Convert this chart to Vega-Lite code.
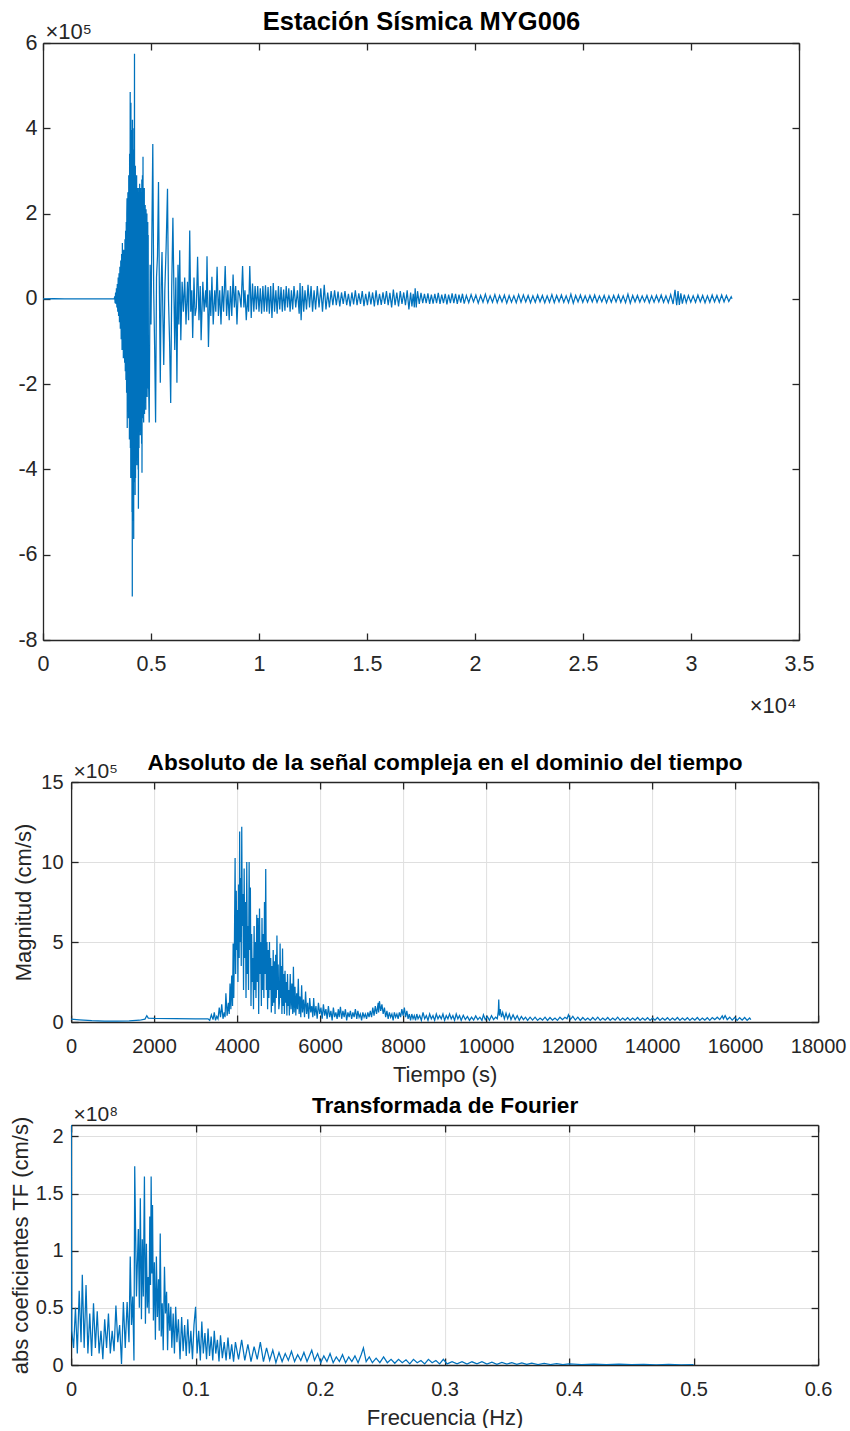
{
"$schema": "https://vega.github.io/schema/vega-lite/v6.json",
"background": "white",
"padding": {"left": 9, "top": 9, "right": 0, "bottom": 0},
"config": {
  "font": "Liberation Sans",
  "view": {"stroke": null},
  "axis": {
    "labelFont": "Liberation Sans", "labelFontSize": 20, "labelColor": "#262626",
    "titleFont": "Liberation Sans", "titleFontSize": 22, "titleFontWeight": "normal", "titleColor": "#262626",
    "domainColor": "#262626", "domainWidth": 1.3, "tickColor": "#262626", "tickWidth": 1.3, "tickSize": -7,
    "labelFlush": false, "labelOverlap": false, "labelBound": false,
    "grid": false, "gridColor": "#dfdfdf", "gridWidth": 1
  },
  "line": {"color": "#0072BD", "strokeWidth": 1.25}
},
"datasets": {
"sismo": [
{"t":0,"v":0},{"t":500,"v":300},{"t":1000,"v":-200},{"t":1500,"v":200},{"t":2000,"v":-300},{"t":2500,"v":200},{"t":3000,"v":-200},{"t":3300,"v":0},
{"t":3320,"v":6000},{"t":3340,"v":-10000},{"t":3360,"v":15000},{"t":3380,"v":-12000},{"t":3400,"v":25000},{"t":3420,"v":-20000},{"t":3440,"v":35000},{"t":3460,"v":-30000},{"t":3480,"v":50000},{"t":3500,"v":-40000},{"t":3520,"v":60000},{"t":3540,"v":-55000},{"t":3560,"v":75000},{"t":3580,"v":-70000},{"t":3600,"v":90000},{"t":3620,"v":-95000},{"t":3640,"v":105000},{"t":3660,"v":-120000},{"t":3675,"v":131000},{"t":3690,"v":-110000},{"t":3705,"v":100000},{"t":3720,"v":-139000},{"t":3735,"v":115000},{"t":3750,"v":-125000},{"t":3765,"v":95000},{"t":3780,"v":-150000},{"t":3795,"v":140000},{"t":3810,"v":-170000},{"t":3825,"v":160000},{"t":3840,"v":-190000},{"t":3855,"v":180000},{"t":3870,"v":-220000},{"t":3880,"v":200000},
{"t":3890,"v":2.36e5},{"t":3900,"v":-3.03e5},{"t":3910,"v":2.0e5},{"t":3920,"v":-2.6e5},{"t":3930,"v":2.5e5},{"t":3940,"v":-2.2e5},{"t":3950,"v":2.2e5},{"t":3960,"v":-2.8e5},{"t":3970,"v":2.9e5},{"t":3980,"v":-2.5e5},{"t":3990,"v":2.6e5},{"t":4000,"v":-3.3e5},{"t":4010,"v":3.4e5},{"t":4020,"v":-3.0e5},{"t":4037,"v":4.85e5},{"t":4045,"v":-3.5e5},{"t":4055,"v":3.9e5},{"t":4063,"v":-4.2e5},{"t":4070,"v":4.6e5},{"t":4080,"v":-3.6e5},{"t":4090,"v":3.7e5},{"t":4100,"v":-4.0e5},{"t":4110,"v":3.96e5},{"t":4120,"v":-5.0e5},{"t":4128,"v":3.2e5},{"t":4134,"v":-6.98e5},{"t":4142,"v":4.2e5},{"t":4150,"v":-4.5e5},{"t":4160,"v":3.5e5},{"t":4170,"v":-5.2e5},{"t":4180,"v":3.0e5},{"t":4199,"v":-5.63e5},{"t":4208,"v":4.0e5},{"t":4218,"v":-4.0e5},{"t":4236,"v":5.75e5},{"t":4245,"v":-4.3e5},{"t":4255,"v":3.1e5},{"t":4265,"v":-4.6e5},{"t":4275,"v":3.12e5},{"t":4285,"v":-4.2e5},{"t":4295,"v":2.8e5},{"t":4305,"v":-3.8e5},{"t":4315,"v":2.6e5},{"t":4325,"v":-3.6e5},{"t":4335,"v":2.9e5},{"t":4345,"v":-3.9e5},{"t":4355,"v":2.5e5},{"t":4365,"v":-3.4e5},{"t":4375,"v":2.6e5},{"t":4385,"v":-3.2e5},{"t":4395,"v":2.4e5},{"t":4405,"v":-4.0e5},{"t":4412,"v":2.5e5},{"t":4417,"v":-4.92e5},{"t":4435,"v":2.6e5},{"t":4445,"v":-3.5e5},{"t":4455,"v":2.3e5},{"t":4465,"v":-3.0e5},{"t":4475,"v":2.7e5},{"t":4485,"v":-2.8e5},{"t":4495,"v":2.4e5},{"t":4505,"v":-3.2e5},{"t":4515,"v":2.6e5},{"t":4525,"v":-2.9e5},{"t":4535,"v":2.2e5},{"t":4545,"v":-3.1e5},{"t":4555,"v":2.5e5},{"t":4565,"v":-3.4e5},{"t":4575,"v":2.8e5},{"t":4583,"v":-4.08e5},{"t":4605,"v":2.9e5},{"t":4615,"v":-2.8e5},{"t":4630,"v":3.33e5},{"t":4640,"v":-2.6e5},{"t":4650,"v":2.4e5},{"t":4660,"v":-2.9e5},{"t":4670,"v":2.3e5},{"t":4680,"v":-2.5e5},{"t":4690,"v":2.6e5},{"t":4700,"v":-2.7e5},{"t":4710,"v":2.0e5},{"t":4720,"v":-2.4e5},{"t":4730,"v":2.2e5},{"t":4740,"v":-2.3e5},{"t":4750,"v":1.9e5},{"t":4760,"v":-2.6e5},{"t":4770,"v":2.1e5},{"t":4780,"v":-2.2e5},{"t":4790,"v":1.8e5},{"t":4800,"v":-2.0e5},{"t":4810,"v":2.0e5},{"t":4820,"v":-2.3e5},{"t":4830,"v":1.6e5},{"t":4840,"v":-1.9e5},{"t":4850,"v":1.8e5},{"t":4860,"v":-2.1e5},{"t":4870,"v":1.5e5},{"t":4880,"v":-1.7e5},
{"t":4917,"v":-2.9e5},{"t":4960,"v":0.8e5},{"t":5000,"v":-0.6e5},{"t":5040,"v":1.5e5},{"t":5083,"v":3.63e5},{"t":5125,"v":0.2e5},{"t":5170,"v":-1.2e5},{"t":5213,"v":-2.9e5},{"t":5255,"v":0.5e5},{"t":5300,"v":1.0e5},{"t":5347,"v":2.74e5},{"t":5390,"v":0.1e5},{"t":5431,"v":-1.97e5},{"t":5470,"v":0.3e5},{"t":5510,"v":1.1e5},{"t":5550,"v":-0.4e5},{"t":5590,"v":-1.55e5},{"t":5640,"v":0.2e5},{"t":5700,"v":1.2e5},{"t":5764,"v":2.58e5},{"t":5810,"v":0},{"t":5860,"v":-1.0e5},{"t":5912,"v":-2.44e5},{"t":5960,"v":0.3e5},{"t":6014,"v":1.9e5},{"t":6060,"v":0.2e5},{"t":6100,"v":-1.2e5},{"t":6150,"v":0.5e5},{"t":6200,"v":-1.97e5},{"t":6250,"v":0.8e5},{"t":6290,"v":-0.6e5},{"t":6330,"v":1.14e5},{"t":6380,"v":-0.97e5},
{"t":6440,"v":0.4e5},{"t":6500,"v":-0.3e5},{"t":6560,"v":0.5e5},{"t":6620,"v":-0.6e5},{"t":6690,"v":0.4e5},{"t":6740,"v":-0.5e5},{"t":6793,"v":1.6e5},{"t":6840,"v":-0.3e5},{"t":6890,"v":0.2e5},{"t":6930,"v":-0.92e5},{"t":6990,"v":0.5e5},{"t":7040,"v":-0.4e5},{"t":7100,"v":-0.2e5},{"t":7157,"v":0.99e5},{"t":7220,"v":-0.5e5},{"t":7280,"v":0.3e5},{"t":7320,"v":-0.97e5},{"t":7400,"v":0.4e5},{"t":7460,"v":-0.3e5},{"t":7530,"v":0.2e5},{"t":7560,"v":-0.2e5},{"t":7593,"v":1.0e5},{"t":7660,"v":-1.13e5},{"t":7720,"v":0.2e5},{"t":7770,"v":-0.4e5},{"t":7820,"v":0.52e5},{"t":7880,"v":-0.6e5},{"t":7950,"v":0.2e5},{"t":8000,"v":-0.3e5},{"t":8060,"v":0.75e5},{"t":8120,"v":-0.4e5},{"t":8180,"v":0.2e5},{"t":8240,"v":-0.6e5},{"t":8300,"v":0.3e5},{"t":8360,"v":-0.3e5},{"t":8435,"v":0.77e5},{"t":8500,"v":-0.4e5},{"t":8560,"v":0.2e5},{"t":8620,"v":-0.5e5},{"t":8680,"v":0.3e5},{"t":8740,"v":-0.4e5},{"t":8800,"v":0.57e5},{"t":8860,"v":-0.2e5},{"t":8920,"v":0.3e5},{"t":8980,"v":-0.6e5},{"t":9040,"v":0.2e5},{"t":9100,"v":0.1e5},{"t":9170,"v":-0.2e5},{"t":9240,"v":0.77e5},{"t":9300,"v":-0.2e5},{"t":9350,"v":0.2e5},{"t":9410,"v":-0.5e5},{"t":9480,"v":0.1e5},{"t":9520,"v":-0.3e5},{"t":9573,"v":0.77e5},{"t":9640,"v":-0.45e5},{"t":9700,"v":0.36e5},{"t":9760,"v":-0.3e5},{"t":9820,"v":0.3e5},{"t":9880,"v":-0.25e5},{"t":9940,"v":0.3e5},{"t":10000,"v":-0.3e5},{"t":10060,"v":0.25e5},{"t":10120,"v":-0.35e5},{"t":10180,"v":0.3e5},{"t":10240,"v":-0.3e5},{"t":10300,"v":0.32e5},{"t":10360,"v":-0.3e5},{"t":10420,"v":0.28e5},{"t":10480,"v":-0.35e5},{"t":10540,"v":0.3e5},{"t":10600,"v":-0.45e5},{"t":10660,"v":0.37e5},{"t":10720,"v":-0.3e5},{"t":10780,"v":0.2e5},{"t":10840,"v":-0.35e5},
{"t":10900,"v":0.3e5},{"t":10960,"v":-0.25e5},{"t":11020,"v":0.28e5},{"t":11080,"v":-0.3e5},{"t":11140,"v":0.22e5},{"t":11200,"v":-0.28e5},{"t":11260,"v":0.3e5},{"t":11320,"v":-0.2e5},{"t":11380,"v":0.25e5},{"t":11440,"v":-0.3e5},{"t":11500,"v":0.2e5},{"t":11560,"v":-0.25e5},{"t":11620,"v":0.3e5},{"t":11700,"v":-0.2e5},{"t":11780,"v":0.2e5},{"t":11860,"v":-0.35e5},{"t":11900,"v":0.37e5},{"t":11950,"v":-0.5e5},{"t":12010,"v":0.3e5},{"t":12070,"v":-0.3e5},{"t":12130,"v":0.2e5},{"t":12200,"v":-0.25e5},{"t":12270,"v":0.33e5},{"t":12340,"v":-0.2e5},{"t":12410,"v":0.3e5},{"t":12480,"v":-0.3e5},{"t":12550,"v":0.2e5},{"t":12620,"v":-0.25e5},{"t":12700,"v":0.3e5},{"t":12780,"v":-0.2e5},{"t":12860,"v":0.25e5},{"t":12940,"v":-0.3e5},{"t":13020,"v":0.33e5},{"t":13100,"v":-0.25e5},{"t":13180,"v":0.15e5},{"t":13260,"v":-0.2e5},{"t":13340,"v":0.18e5},{"t":13420,"v":-0.15e5},{"t":13500,"v":0.2e5},{"t":13580,"v":-0.15e5},{"t":13660,"v":0.17e5},{"t":13740,"v":-0.18e5},{"t":13820,"v":0.15e5},{"t":13900,"v":-0.12e5},{"t":13980,"v":0.18e5},{"t":14060,"v":-0.15e5},{"t":14140,"v":0.12e5},{"t":14220,"v":-0.18e5},{"t":14300,"v":0.15e5},{"t":14380,"v":-0.13e5},{"t":14460,"v":0.2e5},{"t":14540,"v":-0.15e5},{"t":14620,"v":0.13e5},{"t":14700,"v":-0.12e5},{"t":14780,"v":0.18e5},{"t":14860,"v":-0.17e5},{"t":14940,"v":0.12e5},{"t":15020,"v":-0.15e5},{"t":15100,"v":0.17e5},{"t":15180,"v":-0.13e5},{"t":15260,"v":0.15e5},{"t":15340,"v":-0.18e5},{"t":15420,"v":0.2e5},{"t":15500,"v":-0.15e5},{"t":15580,"v":0.12e5},{"t":15660,"v":-0.14e5},{"t":15740,"v":0.15e5},{"t":15820,"v":-0.12e5},{"t":15900,"v":0.18e5},{"t":15980,"v":-0.15e5},{"t":16060,"v":0.14e5},{"t":16140,"v":-0.2e5},{"t":16220,"v":0.22e5},{"t":16300,"v":-0.15e5},{"t":16380,"v":0.15e5},{"t":16460,"v":-0.18e5},{"t":16540,"v":0.18e5},{"t":16620,"v":-0.12e5},{"t":16700,"v":0.15e5},{"t":16780,"v":-0.15e5},{"t":16860,"v":0.2e5},{"t":16940,"v":-0.25e5},{"t":17020,"v":0.15e5},{"t":17080,"v":-0.18e5},{"t":17140,"v":0.12e5},{"t":17190,"v":-0.2e5},{"t":17230,"v":0.25e5},{"t":17280,"v":-0.2e5},{"t":17340,"v":0.18e5},{"t":17420,"v":-0.12e5},{"t":17500,"v":0.14e5},{"t":17580,"v":-0.1e5},{"t":17660,"v":0.12e5},{"t":17740,"v":-0.1e5},{"t":17820,"v":0.13e5},{"t":17900,"v":-0.12e5},{"t":17980,"v":0.1e5},{"t":18060,"v":-0.11e5},{"t":18140,"v":0.12e5},{"t":18220,"v":-0.1e5},{"t":18300,"v":0.14e5},{"t":18380,"v":-0.12e5},{"t":18460,"v":0.1e5},{"t":18540,"v":-0.1e5},{"t":18620,"v":0.12e5},{"t":18700,"v":-0.13e5},{"t":18780,"v":0.1e5},{"t":18860,"v":-0.1e5},{"t":18940,"v":0.13e5},{"t":19020,"v":-0.1e5},{"t":19100,"v":0.12e5},{"t":19180,"v":-0.12e5},{"t":19260,"v":0.1e5},{"t":19340,"v":-0.09e5},{"t":19420,"v":0.12e5},{"t":19500,"v":-0.11e5},
{"t":19600,"v":8000},{"t":19710,"v":-9000},{"t":19820,"v":10000},{"t":19930,"v":-7000},{"t":20040,"v":9000},{"t":20150,"v":-10000},{"t":20260,"v":8000},{"t":20370,"v":-8000},{"t":20480,"v":11000},{"t":20590,"v":-9000},{"t":20700,"v":7000},{"t":20810,"v":-8000},{"t":20920,"v":10000},{"t":21030,"v":-9000},{"t":21140,"v":8000},{"t":21250,"v":-7000},{"t":21360,"v":9000},{"t":21470,"v":-10000},{"t":21580,"v":8000},{"t":21690,"v":-8000},{"t":21800,"v":7000},{"t":21910,"v":-9000},{"t":22020,"v":10000},{"t":22130,"v":-8000},{"t":22240,"v":9000},{"t":22350,"v":-7000},{"t":22460,"v":8000},{"t":22570,"v":-9000},{"t":22680,"v":7000},{"t":22790,"v":-8000},{"t":22900,"v":9000},{"t":23010,"v":-7000},{"t":23120,"v":8000},{"t":23230,"v":-9000},{"t":23340,"v":7000},{"t":23450,"v":-8000},{"t":23560,"v":10000},{"t":23670,"v":-9000},{"t":23780,"v":8000},{"t":23890,"v":-7000},{"t":24000,"v":9000},{"t":24110,"v":-8000},{"t":24220,"v":7000},{"t":24330,"v":-9000},{"t":24440,"v":11000},{"t":24550,"v":-10000},{"t":24660,"v":8000},{"t":24770,"v":-7000},{"t":24880,"v":9000},{"t":24990,"v":-8000},{"t":25100,"v":7000},{"t":25210,"v":-8000},{"t":25320,"v":8000},{"t":25430,"v":-7000},{"t":25540,"v":9000},{"t":25650,"v":-8000},{"t":25760,"v":7000},{"t":25870,"v":-7000},{"t":25980,"v":8000},{"t":26090,"v":-9000},{"t":26200,"v":7000},{"t":26310,"v":-8000},{"t":26420,"v":8000},{"t":26530,"v":-7000},{"t":26640,"v":9000},{"t":26750,"v":-8000},{"t":26860,"v":7000},{"t":26970,"v":-9000},{"t":27080,"v":11000},{"t":27190,"v":-10000},{"t":27300,"v":8000},{"t":27410,"v":-7000},{"t":27520,"v":8000},{"t":27630,"v":-8000},{"t":27740,"v":7000},{"t":27850,"v":-7000},{"t":27960,"v":8000},{"t":28070,"v":-9000},{"t":28180,"v":7000},{"t":28290,"v":-8000},{"t":28400,"v":8000},{"t":28510,"v":-7000},{"t":28620,"v":9000},{"t":28730,"v":-8000},{"t":28840,"v":7000},{"t":28950,"v":-9000},{"t":29060,"v":10000},{"t":29170,"v":-12000},{"t":29260,"v":21000},{"t":29337,"v":-15000},{"t":29400,"v":18000},{"t":29460,"v":-14000},{"t":29530,"v":13000},{"t":29600,"v":-11000},{"t":29690,"v":10000},{"t":29780,"v":-9000},{"t":29880,"v":8000},{"t":29990,"v":-8000},{"t":30100,"v":7000},{"t":30210,"v":-8000},{"t":30320,"v":9000},{"t":30430,"v":-7000},{"t":30540,"v":8000},{"t":30650,"v":-9000},{"t":30760,"v":7000},{"t":30870,"v":-8000},{"t":30980,"v":9000},{"t":31090,"v":-7000},{"t":31200,"v":8000},{"t":31310,"v":-8000},{"t":31420,"v":9000},{"t":31530,"v":-7000},{"t":31640,"v":8000},{"t":31750,"v":-6000},{"t":31860,"v":5000},{"t":31900,"v":0}
],
"envolvente": [
{"t":0,"m":18000},{"t":200,"m":14000},{"t":500,"m":9000},{"t":800,"m":6000},{"t":1100,"m":5000},{"t":1400,"m":7000},{"t":1650,"m":11000},{"t":1780,"m":18000},{"t":1824,"m":39000},{"t":1860,"m":24000},{"t":2000,"m":22000},{"t":2500,"m":21000},{"t":3000,"m":20000},{"t":3300,"m":20000},
{"t":3340,"m":0.1e5},{"t":3380,"m":0.45e5},{"t":3420,"m":0.15e5},{"t":3450,"m":0.6e5},{"t":3480,"m":0.1e5},{"t":3510,"m":0.35e5},{"t":3540,"m":0.2e5},{"t":3570,"m":0.9e5},{"t":3600,"m":0.3e5},{"t":3630,"m":1.1e5},{"t":3660,"m":0.2e5},{"t":3690,"m":0.6e5},{"t":3710,"m":0.3e5},{"t":3730,"m":1.8e5},{"t":3760,"m":0.4e5},{"t":3790,"m":1.2e5},{"t":3810,"m":0.5e5},{"t":3830,"m":2.4e5},{"t":3850,"m":0.8e5},{"t":3870,"m":2.9e5},{"t":3890,"m":1.0e5},{"t":3905,"m":4.9e5},{"t":3920,"m":1.5e5},{"t":3935,"m":4.7e5},{"t":3952,"m":10.25e5},{"t":3965,"m":3.0e5},{"t":3980,"m":8.2e5},{"t":3992,"m":4.5e5},{"t":4005,"m":7.0e5},{"t":4020,"m":2.5e5},{"t":4035,"m":8.6e5},{"t":4050,"m":4.0e5},{"t":4062,"m":11.9e5},{"t":4072,"m":5.0e5},{"t":4085,"m":9.0e5},{"t":4100,"m":3.5e5},{"t":4112,"m":12.2e5},{"t":4125,"m":6.0e5},{"t":4140,"m":8.0e5},{"t":4155,"m":2.0e5},{"t":4170,"m":9.6e5},{"t":4185,"m":4.0e5},{"t":4200,"m":7.5e5},{"t":4215,"m":1.5e5},{"t":4233,"m":10.0e5},{"t":4248,"m":3.0e5},{"t":4262,"m":6.0e5},{"t":4275,"m":2.0e5},{"t":4290,"m":10.0e5},{"t":4305,"m":4.5e5},{"t":4320,"m":8.4e5},{"t":4335,"m":1.0e5},{"t":4350,"m":5.5e5},{"t":4365,"m":2.5e5},{"t":4380,"m":4.0e5},{"t":4395,"m":0.8e5},{"t":4410,"m":6.0e5},{"t":4425,"m":2.0e5},{"t":4440,"m":5.0e5},{"t":4455,"m":1.5e5},{"t":4474,"m":6.7e5},{"t":4490,"m":2.5e5},{"t":4505,"m":6.5e5},{"t":4520,"m":0.5e5},{"t":4540,"m":7.1e5},{"t":4555,"m":3.0e5},{"t":4570,"m":5.0e5},{"t":4585,"m":1.0e5},{"t":4600,"m":6.5e5},{"t":4615,"m":2.0e5},{"t":4630,"m":5.5e5},{"t":4645,"m":1.5e5},{"t":4660,"m":7.5e5},{"t":4675,"m":3.0e5},{"t":4690,"m":9.56e5},{"t":4705,"m":2.0e5},{"t":4720,"m":5.0e5},{"t":4735,"m":0.8e5},{"t":4750,"m":4.5e5},{"t":4765,"m":1.5e5},{"t":4780,"m":5.0e5},{"t":4795,"m":2.0e5},{"t":4810,"m":4.0e5},{"t":4825,"m":0.6e5},{"t":4840,"m":3.5e5},{"t":4855,"m":1.0e5},{"t":4870,"m":4.5e5},{"t":4885,"m":1.2e5},{"t":4900,"m":3.8e5},{"t":4915,"m":0.5e5},{"t":4930,"m":4.2e5},{"t":4945,"m":1.5e5},{"t":4960,"m":5.4e5},{"t":4975,"m":2.0e5},{"t":4990,"m":3.6e5},{"t":5005,"m":0.8e5},{"t":5020,"m":1.2e5},{"t":5036,"m":4.9e5},{"t":5050,"m":1.5e5},{"t":5065,"m":3.5e5},{"t":5080,"m":0.5e5},{"t":5095,"m":4.6e5},{"t":5110,"m":1.0e5},{"t":5125,"m":3.0e5},{"t":5140,"m":0.5e5},{"t":5155,"m":3.2e5},{"t":5170,"m":1.2e5},{"t":5185,"m":2.5e5},{"t":5200,"m":0.4e5},{"t":5215,"m":3.0e5},{"t":5230,"m":1.0e5},{"t":5245,"m":2.0e5},{"t":5260,"m":0.4e5},{"t":5280,"m":3.0e5},{"t":5300,"m":0.8e5},{"t":5320,"m":2.4e5},{"t":5340,"m":0.5e5},{"t":5357,"m":3.46e5},{"t":5375,"m":0.6e5},{"t":5395,"m":2.2e5},{"t":5415,"m":0.4e5},{"t":5435,"m":1.8e5},{"t":5455,"m":0.8e5},{"t":5475,"m":2.7e5},{"t":5495,"m":0.5e5},{"t":5515,"m":1.6e5},{"t":5535,"m":0.3e5},{"t":5555,"m":2.3e5},{"t":5575,"m":0.6e5},{"t":5600,"m":1.4e5},{"t":5625,"m":0.3e5},{"t":5650,"m":1.9e5},{"t":5675,"m":0.5e5},{"t":5700,"m":1.2e5},{"t":5725,"m":0.2e5},{"t":5750,"m":1.5e5},{"t":5775,"m":0.6e5},{"t":5800,"m":1.0e5},{"t":5825,"m":0.3e5},{"t":5845,"m":1.5e5},{"t":5870,"m":0.4e5},{"t":5900,"m":1.0e5},{"t":5930,"m":0.2e5},{"t":5960,"m":1.2e5},{"t":5990,"m":0.5e5},{"t":6020,"m":0.9e5},{"t":6050,"m":0.2e5},{"t":6080,"m":1.1e5},{"t":6110,"m":0.4e5},{"t":6140,"m":0.8e5},{"t":6170,"m":0.2e5},{"t":6200,"m":1.0e5},{"t":6230,"m":0.3e5},{"t":6260,"m":0.7e5},{"t":6290,"m":0.1e5},{"t":6320,"m":0.9e5},{"t":6350,"m":0.3e5},{"t":6380,"m":0.6e5},{"t":6410,"m":0.2e5},{"t":6440,"m":0.8e5},{"t":6460,"m":0.3e5},{"t":6490,"m":0.95e5},{"t":6520,"m":0.2e5},{"t":6550,"m":0.7e5},{"t":6580,"m":0.3e5},{"t":6610,"m":0.8e5},{"t":6640,"m":0.1e5},{"t":6670,"m":0.6e5},{"t":6700,"m":0.3e5},{"t":6730,"m":0.7e5},{"t":6760,"m":0.2e5},{"t":6790,"m":0.6e5},{"t":6820,"m":0.3e5},{"t":6850,"m":0.8e5},{"t":6884,"m":0.2e5},{"t":6910,"m":0.7e5},{"t":6940,"m":0.3e5},{"t":6970,"m":0.5e5},{"t":7000,"m":0.1e5},{"t":7030,"m":0.6e5},{"t":7060,"m":0.3e5},{"t":7090,"m":0.5e5},{"t":7120,"m":0.2e5},{"t":7150,"m":0.6e5},{"t":7180,"m":0.3e5},{"t":7210,"m":0.7e5},{"t":7240,"m":0.3e5},{"t":7270,"m":0.9e5},{"t":7300,"m":0.4e5},{"t":7330,"m":1.0e5},{"t":7360,"m":0.5e5},{"t":7400,"m":1.2e5},{"t":7410,"m":0.6e5},{"t":7430,"m":1.3e5},{"t":7460,"m":0.7e5},{"t":7490,"m":1.1e5},{"t":7520,"m":0.5e5},{"t":7550,"m":0.9e5},{"t":7580,"m":0.3e5},{"t":7610,"m":0.7e5},{"t":7640,"m":0.2e5},{"t":7670,"m":0.6e5},{"t":7700,"m":0.3e5},{"t":7730,"m":0.5e5},{"t":7760,"m":0.1e5},{"t":7790,"m":0.6e5},{"t":7820,"m":0.3e5},{"t":7850,"m":0.5e5},{"t":7880,"m":0.2e5},{"t":7910,"m":0.6e5},{"t":7940,"m":0.3e5},{"t":7970,"m":0.8e5},{"t":8000,"m":0.4e5},{"t":8030,"m":0.9e5},{"t":8060,"m":0.3e5},{"t":8090,"m":0.7e5},{"t":8120,"m":0.2e5},{"t":8150,"m":0.5e5},{"t":8180,"m":0.1e5},{"t":8210,"m":0.5e5},{"t":8240,"m":0.2e5},{"t":8270,"m":0.4e5},{"t":8300,"m":0.1e5},{"t":8330,"m":0.5e5},{"t":8360,"m":0.2e5},{"t":8400,"m":0.4e5},{"t":8440,"m":0.1e5},{"t":8480,"m":0.6e5},{"t":8520,"m":0.2e5},{"t":8560,"m":0.4e5},{"t":8600,"m":0.1e5},{"t":8640,"m":0.5e5},{"t":8680,"m":0.2e5},{"t":8720,"m":0.4e5},{"t":8760,"m":0.1e5},{"t":8800,"m":0.5e5},{"t":8840,"m":0.2e5},{"t":8880,"m":0.4e5},{"t":8920,"m":0.2e5},{"t":8960,"m":0.5e5},{"t":9000,"m":0.1e5},{"t":9040,"m":0.4e5},{"t":9080,"m":0.2e5},{"t":9120,"m":0.5e5},{"t":9160,"m":0.2e5},{"t":9200,"m":0.4e5},{"t":9240,"m":0.1e5},{"t":9280,"m":0.5e5},{"t":9320,"m":0.2e5},{"t":9360,"m":0.4e5},{"t":9400,"m":0.1e5},
{"t":9450,"m":0.42e5},{"t":9500,"m":0.15e5},{"t":9550,"m":0.35e5},{"t":9600,"m":0.1e5},{"t":9650,"m":0.3e5},{"t":9700,"m":0.12e5},{"t":9750,"m":0.38e5},{"t":9800,"m":0.15e5},{"t":9850,"m":0.3e5},{"t":9900,"m":0.1e5},{"t":9936,"m":0.45e5},{"t":9980,"m":0.15e5},{"t":10030,"m":0.35e5},{"t":10080,"m":0.1e5},{"t":10130,"m":0.4e5},{"t":10180,"m":0.15e5},{"t":10230,"m":0.3e5},{"t":10270,"m":0.2e5},{"t":10295,"m":0.7e5},{"t":10305,"m":1.4e5},{"t":10318,"m":0.4e5},{"t":10340,"m":0.8e5},{"t":10370,"m":0.3e5},{"t":10400,"m":0.6e5},{"t":10440,"m":0.2e5},{"t":10480,"m":0.55e5},{"t":10520,"m":0.2e5},{"t":10560,"m":0.5e5},{"t":10600,"m":0.15e5},{"t":10650,"m":0.45e5},{"t":10700,"m":0.15e5},{"t":10750,"m":0.4e5},{"t":10800,"m":0.1e5},{"t":10850,"m":0.35e5},{"t":10900,"m":0.15e5},{"t":10950,"m":0.3e5},{"t":11000,"m":0.1e5},{"t":11060,"m":0.3e5},{"t":11120,"m":0.12e5},{"t":11180,"m":0.3e5},{"t":11240,"m":0.1e5},{"t":11300,"m":0.25e5},{"t":11360,"m":0.12e5},{"t":11420,"m":0.3e5},{"t":11480,"m":0.1e5},{"t":11540,"m":0.28e5},{"t":11600,"m":0.12e5},{"t":11660,"m":0.25e5},{"t":11720,"m":0.1e5},{"t":11780,"m":0.3e5},{"t":11840,"m":0.15e5},{"t":11900,"m":0.3e5},{"t":11950,"m":0.2e5},{"t":11984,"m":0.45e5},{"t":12030,"m":0.15e5},{"t":12090,"m":0.35e5},{"t":12150,"m":0.12e5},{"t":12210,"m":0.3e5},{"t":12270,"m":0.1e5},{"t":12330,"m":0.28e5},{"t":12390,"m":0.12e5},{"t":12450,"m":0.25e5},{"t":12510,"m":0.1e5},{"t":12570,"m":0.28e5},{"t":12630,"m":0.12e5},{"t":12690,"m":0.3e5},{"t":12750,"m":0.1e5},{"t":12810,"m":0.25e5},{"t":12870,"m":0.12e5},{"t":12930,"m":0.28e5},{"t":12990,"m":0.1e5},{"t":13050,"m":0.25e5},{"t":13110,"m":0.12e5},{"t":13170,"m":0.3e5},{"t":13230,"m":0.1e5},{"t":13290,"m":0.25e5},{"t":13350,"m":0.12e5},{"t":13410,"m":0.27e5},{"t":13470,"m":0.1e5},{"t":13530,"m":0.25e5},{"t":13590,"m":0.12e5},{"t":13650,"m":0.28e5},{"t":13710,"m":0.1e5},{"t":13770,"m":0.25e5},{"t":13830,"m":0.12e5},{"t":13890,"m":0.27e5},{"t":13950,"m":0.1e5},{"t":14010,"m":0.25e5},{"t":14070,"m":0.12e5},{"t":14130,"m":0.28e5},{"t":14190,"m":0.1e5},{"t":14250,"m":0.25e5},{"t":14310,"m":0.12e5},{"t":14370,"m":0.27e5},{"t":14430,"m":0.1e5},{"t":14490,"m":0.25e5},{"t":14550,"m":0.12e5},{"t":14610,"m":0.28e5},{"t":14670,"m":0.1e5},{"t":14730,"m":0.25e5},{"t":14790,"m":0.12e5},{"t":14850,"m":0.27e5},{"t":14910,"m":0.1e5},{"t":14970,"m":0.25e5},{"t":15030,"m":0.12e5},{"t":15090,"m":0.28e5},{"t":15150,"m":0.1e5},{"t":15210,"m":0.25e5},{"t":15270,"m":0.12e5},{"t":15330,"m":0.27e5},{"t":15390,"m":0.1e5},{"t":15450,"m":0.28e5},{"t":15510,"m":0.15e5},{"t":15570,"m":0.3e5},{"t":15630,"m":0.15e5},{"t":15690,"m":0.38e5},{"t":15719,"m":0.2e5},{"t":15760,"m":0.4e5},{"t":15810,"m":0.15e5},{"t":15870,"m":0.3e5},{"t":15930,"m":0.12e5},{"t":15990,"m":0.28e5},{"t":16050,"m":0.1e5},{"t":16110,"m":0.27e5},{"t":16170,"m":0.12e5},{"t":16230,"m":0.28e5},{"t":16290,"m":0.1e5},{"t":16350,"m":0.25e5},{"t":16380,"m":0.15e5}
],
"espectro": [
{"f":0,"a":3.0e8},{"f":0.0005,"a":0.3e8},{"f":0.002,"a":0.15e8},{"f":0.0035,"a":0.5e8},{"f":0.005,"a":0.1e8},{"f":0.0065,"a":0.65e8},{"f":0.008,"a":0.2e8},{"f":0.009,"a":0.79e8},{"f":0.0105,"a":0.15e8},{"f":0.012,"a":0.7e8},{"f":0.0135,"a":0.1e8},{"f":0.015,"a":0.45e8},{"f":0.0165,"a":0.08e8},{"f":0.018,"a":0.54e8},{"f":0.0195,"a":0.15e8},{"f":0.021,"a":0.47e8},{"f":0.0225,"a":0.1e8},{"f":0.024,"a":0.3e8},{"f":0.0255,"a":0.05e8},{"f":0.027,"a":0.4e8},{"f":0.0285,"a":0.15e8},{"f":0.03,"a":0.45e8},{"f":0.0315,"a":0.1e8},{"f":0.033,"a":0.3e8},{"f":0.0345,"a":0.12e8},{"f":0.036,"a":0.52e8},{"f":0.0375,"a":0.2e8},{"f":0.039,"a":0.35e8},{"f":0.0405,"a":0.01e8},{"f":0.042,"a":0.55e8},{"f":0.0435,"a":0.15e8},{"f":0.045,"a":0.55e8},{"f":0.0465,"a":0.2e8},{"f":0.0475,"a":0.95e8},{"f":0.0485,"a":0.35e8},{"f":0.0495,"a":0.6e8},{"f":0.0505,"a":0.04e8},{"f":0.0511,"a":1.74e8},{"f":0.0525,"a":0.6e8},{"f":0.054,"a":1.19e8},{"f":0.0548,"a":0.5e8},{"f":0.0556,"a":1.46e8},{"f":0.0565,"a":0.4e8},{"f":0.0572,"a":1.1e8},{"f":0.058,"a":0.6e8},{"f":0.0589,"a":1.65e8},{"f":0.0597,"a":0.36e8},{"f":0.0605,"a":1.06e8},{"f":0.0612,"a":0.5e8},{"f":0.0619,"a":0.77e8},{"f":0.0626,"a":0.45e8},{"f":0.0632,"a":1.3e8},{"f":0.0638,"a":0.7e8},{"f":0.0643,"a":1.65e8},{"f":0.0649,"a":0.8e8},{"f":0.0654,"a":1.4e8},{"f":0.0661,"a":0.39e8},{"f":0.0669,"a":0.9e8},{"f":0.0677,"a":0.22e8},{"f":0.0685,"a":0.95e8},{"f":0.0693,"a":0.42e8},{"f":0.0702,"a":0.75e8},{"f":0.0708,"a":0.3e8},{"f":0.0716,"a":1.15e8},{"f":0.0724,"a":0.25e8},{"f":0.0732,"a":0.54e8},{"f":0.074,"a":0.13e8},{"f":0.075,"a":0.86e8},{"f":0.0758,"a":0.45e8},{"f":0.0767,"a":0.64e8},{"f":0.0775,"a":0.13e8},{"f":0.0783,"a":0.54e8},{"f":0.0793,"a":0.3e8},{"f":0.0801,"a":0.51e8},{"f":0.0809,"a":0.15e8},{"f":0.082,"a":0.45e8},{"f":0.083,"a":0.1e8},{"f":0.084,"a":0.51e8},{"f":0.085,"a":0.2e8},{"f":0.0862,"a":0.4e8},{"f":0.0875,"a":0.05e8},{"f":0.0888,"a":0.42e8},{"f":0.09,"a":0.12e8},{"f":0.0912,"a":0.35e8},{"f":0.0925,"a":0.08e8},{"f":0.0937,"a":0.4e8},{"f":0.095,"a":0.1e8},{"f":0.0962,"a":0.3e8},{"f":0.0975,"a":0.05e8},{"f":0.0987,"a":0.35e8},{"f":0.1,"a":0.51e8},{"f":0.1012,"a":0.1e8},{"f":0.1025,"a":0.3e8},{"f":0.1038,"a":0.04e8},{"f":0.105,"a":0.38e8},{"f":0.1062,"a":0.1e8},{"f":0.1075,"a":0.28e8},{"f":0.1088,"a":0.05e8},{"f":0.11,"a":0.32e8},{"f":0.1112,"a":0.08e8},{"f":0.1125,"a":0.25e8},{"f":0.1138,"a":0.04e8},{"f":0.115,"a":0.3e8},{"f":0.1162,"a":0.1e8},{"f":0.1175,"a":0.22e8},{"f":0.1188,"a":0.03e8},{"f":0.12,"a":0.26e8},{"f":0.1215,"a":0.06e8},{"f":0.123,"a":0.2e8},{"f":0.1245,"a":0.04e8},{"f":0.126,"a":0.24e8},{"f":0.1275,"a":0.05e8},{"f":0.129,"a":0.18e8},{"f":0.1305,"a":0.03e8},{"f":0.132,"a":0.2e8},{"f":0.1345,"a":0.05e8},{"f":0.137,"a":0.22e8},{"f":0.1395,"a":0.04e8},{"f":0.142,"a":0.18e8},{"f":0.1445,"a":0.03e8},{"f":0.147,"a":0.16e8},{"f":0.1495,"a":0.05e8},{"f":0.152,"a":0.2e8},{"f":0.1545,"a":0.03e8},{"f":0.157,"a":0.15e8},{"f":0.1595,"a":0.04e8},{"f":0.162,"a":0.13e8},{"f":0.1645,"a":0.02e8},{"f":0.167,"a":0.11e8},{"f":0.1695,"a":0.03e8},{"f":0.172,"a":0.1e8},{"f":0.1745,"a":0.04e8},{"f":0.177,"a":0.12e8},{"f":0.1795,"a":0.03e8},{"f":0.182,"a":0.09e8},{"f":0.1845,"a":0.04e8},{"f":0.187,"a":0.11e8},{"f":0.1895,"a":0.03e8},{"f":0.1933,"a":0.13e8},{"f":0.1955,"a":0.04e8},{"f":0.198,"a":0.1e8},{"f":0.2005,"a":0.02e8},{"f":0.203,"a":0.08e8},{"f":0.2055,"a":0.03e8},{"f":0.208,"a":0.1e8},{"f":0.2105,"a":0.02e8},{"f":0.213,"a":0.07e8},{"f":0.2155,"a":0.03e8},{"f":0.218,"a":0.09e8},{"f":0.2205,"a":0.02e8},{"f":0.223,"a":0.07e8},{"f":0.2255,"a":0.03e8},{"f":0.228,"a":0.08e8},{"f":0.2305,"a":0.02e8},{"f":0.233,"a":0.09e8},{"f":0.2348,"a":0.15e8},{"f":0.237,"a":0.03e8},{"f":0.2395,"a":0.07e8},{"f":0.242,"a":0.02e8},{"f":0.245,"a":0.06e8},{"f":0.248,"a":0.02e8},{"f":0.251,"a":0.07e8},{"f":0.254,"a":0.02e8},{"f":0.257,"a":0.05e8},{"f":0.26,"a":0.015e8},{"f":0.263,"a":0.05e8},{"f":0.266,"a":0.02e8},{"f":0.269,"a":0.045e8},{"f":0.272,"a":0.01e8},{"f":0.275,"a":0.05e8},{"f":0.278,"a":0.02e8},{"f":0.281,"a":0.04e8},{"f":0.284,"a":0.01e8},{"f":0.287,"a":0.05e8},{"f":0.29,"a":0.02e8},{"f":0.293,"a":0.04e8},{"f":0.296,"a":0.01e8},{"f":0.299,"a":0.05e8},{"f":0.302,"a":0.01e8},{"f":0.306,"a":0.03e8},{"f":0.31,"a":0.01e8},{"f":0.314,"a":0.03e8},{"f":0.318,"a":0.008e8},{"f":0.322,"a":0.028e8},{"f":0.326,"a":0.01e8},{"f":0.33,"a":0.03e8},{"f":0.334,"a":0.008e8},{"f":0.338,"a":0.025e8},{"f":0.342,"a":0.006e8},{"f":0.346,"a":0.022e8},{"f":0.35,"a":0.008e8},{"f":0.354,"a":0.02e8},{"f":0.358,"a":0.006e8},{"f":0.362,"a":0.018e8},{"f":0.366,"a":0.005e8},{"f":0.37,"a":0.016e8},{"f":0.375,"a":0.004e8},{"f":0.38,"a":0.014e8},{"f":0.385,"a":0.004e8},{"f":0.39,"a":0.012e8},{"f":0.395,"a":0.003e8},{"f":0.4,"a":0.01e8},{"f":0.41,"a":0.004e8},{"f":0.42,"a":0.008e8},{"f":0.43,"a":0.003e8},{"f":0.44,"a":0.007e8},{"f":0.45,"a":0.003e8},{"f":0.46,"a":0.006e8},{"f":0.47,"a":0.002e8},{"f":0.48,"a":0.005e8},{"f":0.49,"a":0.002e8},{"f":0.5,"a":0.004e8}
]
},
"center": true,
"spacing": 35,
"vconcat": [
{
  "width": 756, "height": 597,
  "data": {"name": "sismo"},
  "layer": [
    {"mark": {"type": "line", "clip": true},
     "encoding": {
       "x": {"field": "t", "type": "quantitative", "scale": {"domain": [0, 35000], "nice": false, "zero": false},
         "axis": {"orient": "bottom", "values": [0,5000,10000,15000,20000,25000,30000,35000], "labelExpr": "datum.value / 10000", "labelFontSize": 21.5, "labelPadding": 20,
           "title": "×10⁴", "titleFontSize": 22, "titleX": 753, "titleY": 72, "titleAlign": "right", "titleBaseline": "alphabetic"}},
       "y": {"field": "v", "type": "quantitative", "scale": {"domain": [-800000, 600000], "nice": false, "zero": false},
         "axis": {"orient": "left", "values": [-800000,-600000,-400000,-200000,0,200000,400000,600000], "labelExpr": "datum.value / 100000", "labelFontSize": 21.5, "labelPadding": 13,
           "title": "×10⁵", "titleFontSize": 22, "titleAngle": 0, "titleX": 2, "titleY": -5, "titleAlign": "left", "titleBaseline": "alphabetic"}}
     }},
    {"mark": {"type": "line", "opacity": 0, "clip": true},
     "encoding": {
       "x": {"field": "t", "type": "quantitative", "scale": {"domain": [0, 35000], "nice": false, "zero": false},
         "axis": {"orient": "top", "values": [0,5000,10000,15000,20000,25000,30000,35000], "labels": false,
           "title": "Estación Sísmica MYG006", "titleFontSize": 25.5, "titleFontWeight": "bold", "titleColor": "#000000", "titlePadding": 8}},
       "y": {"field": "v", "type": "quantitative", "scale": {"domain": [-800000, 600000], "nice": false, "zero": false},
         "axis": {"orient": "right", "values": [-800000,-600000,-400000,-200000,0,200000,400000,600000], "labels": false, "title": null}}
     }},
    {"mark": {"type": "line", "opacity": 0, "clip": true},
     "encoding": {
       "x": {"field": "t", "type": "quantitative", "scale": {"domain": [0, 35000], "nice": false, "zero": false}, "axis": null},
       "y": {"field": "v", "type": "quantitative", "scale": {"domain": [-800000, 600000], "nice": false, "zero": false},
         "axis": {"orient": "right", "values": [0], "labels": false, "title": null, "domain": false, "ticks": true, "tickSize": 75, "tickOpacity": 0}}
     }}
  ],
  "resolve": {"axis": {"x": "independent", "y": "independent"}}
},
{
  "spacing": 9,
  "vconcat": [
  {
    "width": 747, "height": 240,
    "data": {"name": "envolvente"},
    "layer": [
      {"mark": {"type": "line", "clip": true},
       "encoding": {
         "x": {"field": "t", "type": "quantitative", "scale": {"domain": [0, 18000], "nice": false, "zero": false},
           "axis": {"orient": "bottom", "values": [0,2000,4000,6000,8000,10000,12000,14000,16000,18000], "labelExpr": "'' + datum.value", "labelPadding": 21, "grid": true,
             "title": "Tiempo (s)", "titlePadding": 8}},
         "y": {"field": "m", "type": "quantitative", "scale": {"domain": [0, 1500000], "nice": false, "zero": false},
           "axis": {"orient": "left", "values": [0,500000,1000000,1500000], "labelExpr": "datum.value / 100000", "labelPadding": 15, "grid": true,
             "title": "Magnitud (cm/s)", "titlePadding": 5}}
       }},
      {"mark": {"type": "line", "opacity": 0, "clip": true},
       "encoding": {
         "x": {"field": "t", "type": "quantitative", "scale": {"domain": [0, 18000], "nice": false, "zero": false},
           "axis": {"orient": "top", "values": [0,2000,4000,6000,8000,10000,12000,14000,16000,18000], "labels": false,
             "title": "Absoluto de la señal compleja en el dominio del tiempo", "titleFontSize": 22.6, "titleFontWeight": "bold", "titleColor": "#000000", "titlePadding": 7}},
         "y": {"field": "m", "type": "quantitative", "scale": {"domain": [0, 1500000], "nice": false, "zero": false},
           "axis": {"orient": "right", "values": [0,500000,1000000,1500000], "labels": false,
             "title": "×10⁵", "titleAngle": 0, "titleX": -745, "titleY": -5, "titleAlign": "left", "titleBaseline": "alphabetic", "titleFontSize": 21}}
       }}
    ],
    "resolve": {"axis": {"x": "independent", "y": "independent"}}
  },
  {
    "width": 747, "height": 240,
    "data": {"name": "espectro"},
    "layer": [
      {"mark": {"type": "line", "clip": true},
       "encoding": {
         "x": {"field": "f", "type": "quantitative", "scale": {"domain": [0, 0.6], "nice": false, "zero": false},
           "axis": {"orient": "bottom", "values": [0,0.1,0.2,0.3,0.4,0.5,0.6], "labelExpr": "'' + datum.value", "labelPadding": 21, "grid": true,
             "title": "Frecuencia (Hz)", "titlePadding": 8}},
         "y": {"field": "a", "type": "quantitative", "scale": {"domain": [0, 210000000], "nice": false, "zero": false},
           "axis": {"orient": "left", "values": [0,50000000,100000000,150000000,200000000], "labelExpr": "datum.value / 100000000", "labelPadding": 15, "grid": true,
             "title": "abs coeficientes TF (cm/s)", "titlePadding": 3}}
       }},
      {"mark": {"type": "line", "opacity": 0, "clip": true},
       "encoding": {
         "x": {"field": "f", "type": "quantitative", "scale": {"domain": [0, 0.6], "nice": false, "zero": false},
           "axis": {"orient": "top", "values": [0,0.1,0.2,0.3,0.4,0.5,0.6], "labels": false,
             "title": "Transformada de Fourier", "titleFontSize": 22.6, "titleFontWeight": "bold", "titleColor": "#000000", "titlePadding": 7}},
         "y": {"field": "a", "type": "quantitative", "scale": {"domain": [0, 210000000], "nice": false, "zero": false},
           "axis": {"orient": "right", "values": [0,50000000,100000000,150000000,200000000], "labels": false,
             "title": "×10⁸", "titleAngle": 0, "titleX": -745, "titleY": -5, "titleAlign": "left", "titleBaseline": "alphabetic", "titleFontSize": 21}}
       }}
    ],
    "resolve": {"axis": {"x": "independent", "y": "independent"}}
  }
  ]
}
]
}
